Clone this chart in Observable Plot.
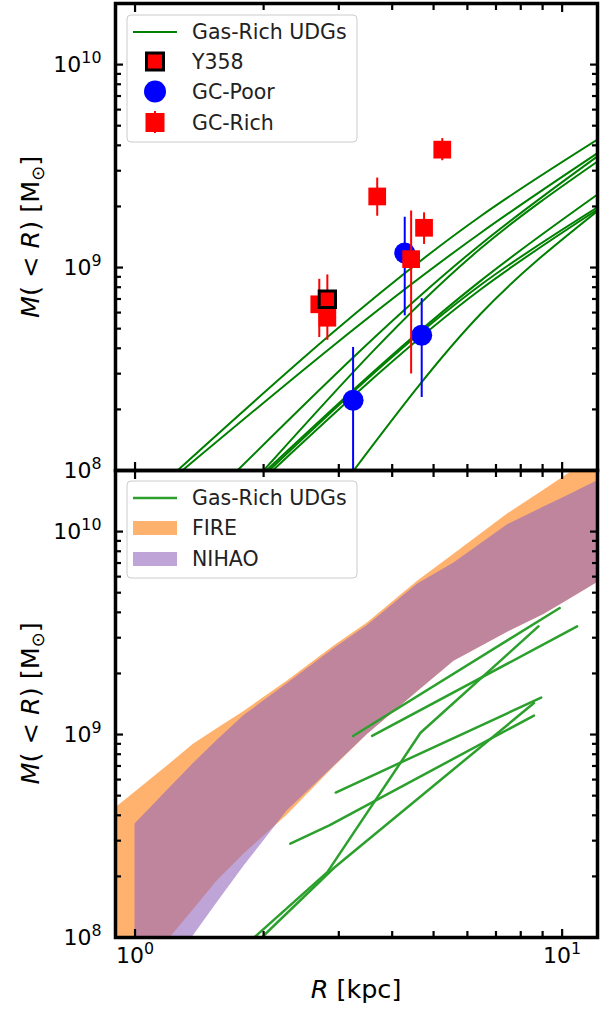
<!DOCTYPE html>
<html>
<head>
<meta charset="utf-8">
<script src="https://cdn.jsdelivr.net/npm/d3@7"></script>
<script src="https://cdn.jsdelivr.net/npm/@observablehq/plot@0.6"></script>
<style>
html,body{margin:0;padding:0;background:#fff;}
#chart{position:relative;width:609px;height:1009px;overflow:hidden;font-family:"DejaVu Sans",sans-serif;}
#chart > svg{position:absolute;left:0;overflow:visible;}
</style>
</head>
<body>
<div id="chart"></div>
<script>
// ---------------- data ----------------
const xTicksMajor = [1, 10];
const xTickLabels = ["10^0", "10^1"];
const xTicksMinor = [2, 3, 4, 5, 6, 7, 8, 9];
const yTicksMajor = [1e8, 1e9, 1e10];
const yTickLabels = ["10^8", "10^9", "10^10"];
const yTicksMinor = [2e8, 3e8, 4e8, 5e8, 6e8, 7e8, 8e8, 9e8, 2e9, 3e9, 4e9, 5e9, 6e9, 7e9, 8e9, 9e9];

// top panel: gas-rich UDG mass profiles, each as [R kpc, M(<R) Msun]
const udgTopLines = [
  [[1.257, 1e8], [6.44, 1.79e9], [12.1, 4.27e9]],
  [[1.29, 1e8], [6.44, 1.48e9], [12.1, 3.66e9]],
  [[1.736, 1e8], [6.44, 1.30e9], [12.1, 3.53e9]],
  [[2.0, 1e8], [6.44, 1.24e9], [12.1, 3.33e9]],
  [[2.03, 1e8], [6.44, 8.6e8], [12.1, 2.29e9]],
  [[2.06, 1e8], [6.44, 8.2e8], [12.1, 1.98e9]],
  [[2.10, 1e8], [6.44, 7.8e8], [12.1, 1.93e9]],
  [[3.25, 1e8], [6.44, 5.9e8], [12.1, 1.90e9]]
];
// GC-poor UDGs
const gcPoorR  = [4.28, 3.24, 4.69];
const gcPoorM  = [1.18e9, 2.22e8, 4.64e8];
const gcPoorLo = [5.78e8, 5e7, 2.29e8];
const gcPoorHi = [1.77e9, 4.04e8, 7.03e8];
// GC-rich UDGs
const gcRichR  = [5.24, 3.69, 4.75, 4.43, 2.70, 2.82];
const gcRichM  = [3.81e9, 2.24e9, 1.57e9, 1.10e9, 6.59e8, 5.66e8];
const gcRichLo = [3.36e9, 1.79e9, 1.30e9, 2.99e8, 4.52e8, 4.38e8];
const gcRichHi = [4.32e9, 2.76e9, 1.86e9, 1.90e9, 8.75e8, 9.20e8];
// Y358
const y358R  = [2.82];
const y358M  = [6.98e8];

// bottom panel: simulations
const fireR  = [0.85, 1.0, 1.21, 1.37, 1.56, 1.8, 2.27, 2.92, 3.5, 4.58, 5.58, 7.45, 9.06, 10.2, 12.5];
const fireLo = [4e7, 6.2e7, 1.0e8, 1.37e8, 1.91e8, 2.58e8, 4.0e8, 6.9e8, 1.0e9, 1.62e9, 2.3e9, 3.19e9, 3.9e9, 4.53e9, 5.84e9];
const fireHi = [3.95e8, 5.2e8, 7.2e8, 8.96e8, 1.07e9, 1.30e9, 1.83e9, 2.72e9, 3.55e9, 5.67e9, 7.74e9, 1.22e10, 1.60e10, 1.89e10, 2.5e10];
const nihaoR  = [1.0, 1.21, 1.37, 1.56, 1.8, 2.27, 2.92, 3.5, 4.58, 5.58, 7.45, 9.06, 10.2, 12.5];
const nihaoLo = [4.1e7, 7.1e7, 1.02e8, 1.49e8, 2.25e8, 4.2e8, 6.96e8, 1.0e9, 1.62e9, 2.3e9, 3.19e9, 3.9e9, 4.53e9, 5.84e9];
const nihaoHi = [3.62e8, 5.5e8, 7.2e8, 9.4e8, 1.24e9, 1.78e9, 2.65e9, 3.45e9, 5.5e9, 7.0e9, 1.08e10, 1.32e10, 1.49e10, 1.84e10];
// bottom panel: gas-rich UDG profiles
const udgBottomLines = [
  [[3.24, 9.84e8], [9.87, 4.2e9]],
  [[3.59, 9.84e8], [10.84, 3.41e9]],
  [[2.95, 5.18e8], [8.93, 1.52e9]],
  [[2.31, 2.9e8], [2.85, 3.57e8], [8.59, 1.24e9]],
  [[1.9, 1.0e8], [2.82, 2.1e8], [4.66, 1.02e9], [8.8, 3.41e9]],
  [[1.98, 1.0e8], [2.92, 2.2e8], [8.59, 1.43e9]]
];

// ---------------- tables ----------------
const toLines = (lines) => lines.flatMap((pts, id) => pts.map(([R, M]) => ({id, R, M})));
const topLines = toLines(udgTopLines);
const bottomLines = toLines(udgBottomLines);
const gcPoor = gcPoorR.map((R, i) => ({R, M: gcPoorM[i], lo: gcPoorLo[i], hi: gcPoorHi[i]}));
const gcRich = gcRichR.map((R, i) => ({R, M: gcRichM[i], lo: gcRichLo[i], hi: gcRichHi[i]}));
const y358 = y358R.map((R, i) => ({R, M: y358M[i]}));
const fire = fireR.map((R, i) => ({R, lo: fireLo[i], hi: fireHi[i]}));
const nihao = nihaoR.map((R, i) => ({R, lo: nihaoLo[i], hi: nihaoHi[i]}));

const GREEN = "#008000", TABGREEN = "#2ca02c", ORANGE = "#ff7f0e", PURPLE = "#9467bd";

function axes(withX) {
  const t = {strokeWidth: 2.2, fill: "none", label: null};
  const m = [
    Plot.axisY(yTicksMajor, {anchor: "left", tickSize: -8, ...t}),
    Plot.axisY(yTicksMinor, {anchor: "left", tickSize: -6, ...t}),
    Plot.axisY(yTicksMajor, {anchor: "right", tickSize: -8, ...t}),
    Plot.axisY(yTicksMinor, {anchor: "right", tickSize: -6, ...t}),
    Plot.axisX(xTicksMajor, {anchor: "top", tickSize: -8, ...t}),
    Plot.axisX(xTicksMinor, {anchor: "top", tickSize: -6, ...t}),
    Plot.axisX(xTicksMajor, {anchor: "bottom", tickSize: -8, ...t}),
    Plot.axisX(xTicksMinor, {anchor: "bottom", tickSize: -6, ...t}),
    Plot.axisY(yTicksMajor, {anchor: "left", tickSize: 0, tickPadding: 14, label: null,
      tickFormat: d => yTickLabels[yTicksMajor.indexOf(d)]})
  ];
  if (withX) m.push(Plot.axisX(xTicksMajor, {anchor: "bottom", tickSize: 0, tickPadding: 10, label: null,
      tickFormat: d => xTickLabels[xTicksMajor.indexOf(d)]}));
  return m;
}

const common = {
  width: 609, marginLeft: 115, marginRight: 12,
  x: {type: "log", domain: [0.9, 12.1], label: null},
  y: {type: "log", domain: [1e8, 2e10], label: null},
  style: {fontFamily: "DejaVu Sans", color: "black", overflow: "visible", background: "transparent"}
};

const topPlot = Plot.plot({
  ...common, height: 473, marginTop: 3, marginBottom: 3,
  marks: [
    Plot.line(topLines, {x: "R", y: "M", z: "id", stroke: GREEN, strokeWidth: 2, curve: "monotone-x", clip: true}),
    Plot.ruleX(gcPoor, {x: "R", y1: "lo", y2: "hi", stroke: "#0000ff", strokeWidth: 2, clip: true}),
    Plot.dot(gcPoor, {x: "R", y: "M", r: 10.5, fill: "#0000ff", clip: true}),
    Plot.ruleX(gcRich, {x: "R", y1: "lo", y2: "hi", stroke: "#ff0000", strokeWidth: 2, clip: true}),
    Plot.dot(gcRich, {x: "R", y: "M", symbol: "square", r: 10, fill: "#ff0000", clip: true}),
    Plot.dot(y358, {x: "R", y: "M", symbol: "square", r: 9.2, fill: "#ff0000", stroke: "black", strokeWidth: 3, clip: true}),
    ...axes(false),
    Plot.frame({stroke: "black", strokeWidth: 3.5})
  ]
});

const bottomPlot = Plot.plot({
  ...common, height: 539, marginTop: 0, marginBottom: 72,
  marks: [
    Plot.areaY(fire, {x: "R", y1: "lo", y2: "hi", fill: ORANGE, fillOpacity: 0.6, clip: true}),
    Plot.areaY(nihao, {x: "R", y1: "lo", y2: "hi", fill: PURPLE, fillOpacity: 0.6, clip: true}),
    Plot.line(bottomLines, {x: "R", y: "M", z: "id", stroke: TABGREEN, strokeWidth: 2.5, clip: true}),
    ...axes(true),
    Plot.frame({stroke: "black", strokeWidth: 3.5})
  ]
});

function supLabels(svg) {
  d3.select(svg).selectAll("text").each(function () {
    const t = this.textContent;
    if (!t.includes("^")) return;
    const [b, e] = t.split("^");
    const s = d3.select(this);
    s.attr("font-size", 22).style("font-size", "22px");
    s.text(null);
    s.append("tspan").text(b);
    s.append("tspan").attr("dy", "-0.55em").attr("font-size", "0.72em").style("font-size", "0.72em").text(e);
  });
}
supLabels(topPlot);
supLabels(bottomPlot);

const chart = document.getElementById("chart");
topPlot.style.top = "0px";
bottomPlot.style.top = "470px";
chart.appendChild(topPlot);
chart.appendChild(bottomPlot);

// ---------------- overlay: axis titles and legends ----------------
const ov = d3.select(chart).append("svg")
  .attr("width", 609).attr("height", 1009)
  .style("position", "absolute").style("left", "0px").style("top", "0px")
  .attr("font-family", "DejaVu Sans");

function yTitle(cy) {
  const t = ov.append("text").attr("transform", `translate(39,${cy}) rotate(-90)`)
    .attr("text-anchor", "middle").attr("font-size", 25.5).attr("fill", "black");
  t.append("tspan").attr("font-style", "italic").text("M");
  t.append("tspan").text("( < ");
  t.append("tspan").attr("font-style", "italic").text("R");
  t.append("tspan").text(") [M");
  t.append("tspan").attr("font-size", "0.7em").attr("dy", "0.3em").text("\u2299");
  t.append("tspan").attr("dy", "-0.21em").text("]");
}
yTitle(237);
yTitle(703.5);
const xt = ov.append("text").attr("x", 356).attr("y", 998).attr("text-anchor", "middle")
  .attr("font-size", 25.5).attr("fill", "black");
xt.append("tspan").attr("font-style", "italic").text("R");
xt.append("tspan").text(" [kpc]");

function legendBox(x, y, w, h) {
  ov.append("rect").attr("x", x).attr("y", y).attr("width", w).attr("height", h).attr("rx", 4)
    .attr("fill", "white").attr("fill-opacity", 0.8).attr("stroke", "#cccccc").attr("stroke-width", 1);
}
function legendText(y, s) {
  ov.append("text").attr("x", 192).attr("y", y).attr("dy", "0.36em").attr("font-size", 20.5).attr("fill", "#222").text(s);
}
// top legend
legendBox(127, 15, 230, 127);
ov.append("line").attr("x1", 133).attr("x2", 177).attr("y1", 32).attr("y2", 32).attr("stroke", GREEN).attr("stroke-width", 2);
legendText(32, "Gas-Rich UDGs");
ov.append("rect").attr("x", 146.5).attr("y", 53).attr("width", 17).attr("height", 17).attr("fill", "#ff0000").attr("stroke", "black").attr("stroke-width", 3);
legendText(62, "Y358");
ov.append("circle").attr("cx", 155).attr("cy", 91.5).attr("r", 11).attr("fill", "#0000ff");
legendText(91.5, "GC-Poor");
ov.append("line").attr("x1", 155).attr("x2", 155).attr("y1", 111).attr("y2", 133).attr("stroke", "#ff0000").attr("stroke-width", 2);
ov.append("rect").attr("x", 145.5).attr("y", 113).attr("width", 19).attr("height", 19).attr("fill", "#ff0000");
legendText(122.5, "GC-Rich");
// bottom legend
legendBox(127, 481, 230, 97);
ov.append("line").attr("x1", 133).attr("x2", 177).attr("y1", 498).attr("y2", 498).attr("stroke", TABGREEN).attr("stroke-width", 2.5);
legendText(498, "Gas-Rich UDGs");
ov.append("rect").attr("x", 133).attr("y", 521).attr("width", 44).attr("height", 14).attr("fill", ORANGE).attr("fill-opacity", 0.6);
legendText(528, "FIRE");
ov.append("rect").attr("x", 133).attr("y", 552).attr("width", 44).attr("height", 14).attr("fill", PURPLE).attr("fill-opacity", 0.6);
legendText(559, "NIHAO");
</script>
</body>
</html>
